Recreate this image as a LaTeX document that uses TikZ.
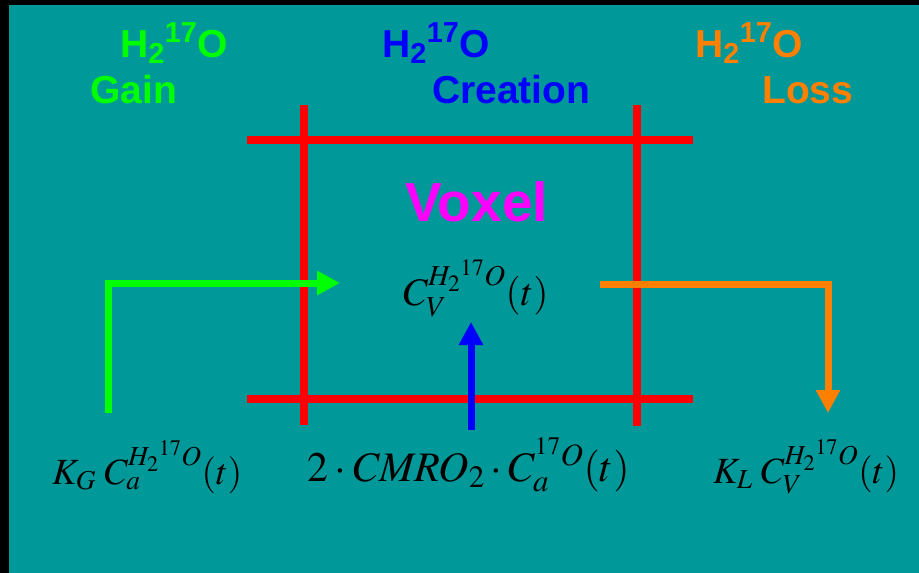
\documentclass[tikz,border=0pt]{standalone}
\usepackage{mathptmx}
\usepackage{fontspec}
\setmainfont{Liberation Serif}
\newfontfamily\arialfont{Liberation Sans}
\usetikzlibrary{arrows.meta}
\definecolor{teal}{RGB}{0,152,152}
\definecolor{vgreen}{RGB}{0,255,0}
\definecolor{vblue}{RGB}{0,0,255}
\definecolor{vorange}{RGB}{255,128,0}
\definecolor{vmagenta}{RGB}{255,0,255}
\definecolor{vred}{RGB}{255,0,0}
\begin{document}
\begin{tikzpicture}[x=1pt,y=-1pt,
  lbl/.style={font=\arialfont\bfseries\fontsize{39}{39}\selectfont, anchor=base west, inner sep=0pt},
  eqn/.style={text=black, anchor=base west, inner sep=0pt},
  redline/.style={draw=vred, line width=8pt},
  arr/.style={line width=7pt, -{Triangle[length=23pt,width=23pt]}}]
\useasboundingbox (0,0) rectangle (919,573);
\fill[black] (0,0) rectangle (919,573);
\fill[teal] (9,5) rectangle (919,573);
% red voxel grid
\draw[redline] (247,139.5) -- (693,139.5);
\draw[redline] (247,399) -- (693,399);
\draw[redline] (304,105) -- (304,425);
\draw[redline] (637,105) -- (637,426);
% labels
\node[lbl, text=vgreen] (gh) at (120,57) {H\textsubscript{2}\textsuperscript{17}O};
\node[lbl, text=vgreen] (gain) at (90,103) {Gain};
\node[lbl, text=vblue] (ch) at (382,57) {H\textsubscript{2}\textsuperscript{17}O};
\node[lbl, text=vblue] (creation) at (432,103) {Creation};
\node[lbl, text=vorange] (lh) at (695,57) {H\textsubscript{2}\textsuperscript{17}O};
\node[lbl, text=vorange] (loss) at (762,103) {Loss};
\node[lbl, text=vmagenta, font=\arialfont\bfseries\fontsize{55}{55}\selectfont] (voxel) at (405,221) {Voxel};
% formulas
\node[eqn, font=\fontsize{39}{39}\selectfont] (cv) at (403,305) {$C_V^{H_2{}^{17}O}(t)$};
\node[eqn, font=\fontsize{37}{37}\selectfont] (kg) at (52,484) {$K_G\;C_a^{H_2{}^{17}O}(t)$};
\node[eqn, font=\fontsize{37}{37}\selectfont] (kl) at (713,483) {$K_L\;C_V^{H_2{}^{17}O}(t)$};
\node[eqn, font=\fontsize{42}{42}\selectfont] (cm) at (307,481) {$2\cdot \mathit{CMRO}_2\cdot C_a^{{}^{17}O}(t)$};
% arrows
\coordinate (gs) at (108,413);
\coordinate (ge) at (340,283);
\coordinate (os) at (600,284);
\coordinate (oe) at (828,413);
\coordinate (bs) at (471,430);
\coordinate (be) at (471,322);
\draw[arr, draw=vgreen] (gs) |- (ge);
\draw[arr, draw=vorange] (os) -| (oe);
\draw[arr, draw=vblue] (bs) -- (be);
\end{tikzpicture}
\end{document}
